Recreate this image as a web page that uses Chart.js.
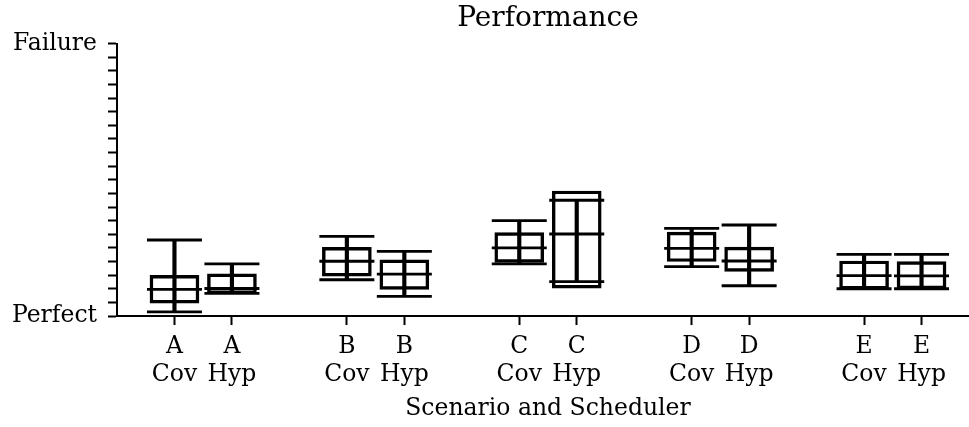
<!DOCTYPE html>
<html><head><meta charset="utf-8">
<script src="https://cdn.jsdelivr.net/npm/chart.js@4/dist/chart.umd.min.js"></script>
<style>html,body{margin:0;padding:0;overflow:hidden;background:#fff}#c{display:block}</style>
</head><body><canvas id="c" width="979" height="427"></canvas>
<script>
// ---- data ----
const scenarios   = ['A','A','B','B','C','C','D','D','E','E'];
const schedulers  = ['Cov','Hyp','Cov','Hyp','Cov','Hyp','Cov','Hyp','Cov','Hyp'];
const positions   = [1,2,4,5,7,8,10,11,13,14];
const whiskerLow  = [0.015,0.083,0.133,0.072,0.191,0.126,0.181,0.111,0.100,0.100];
const boxLow      = [0.047,0.082,0.146,0.098,0.197,0.102,0.200,0.164,0.099,0.100];
const medians     = [0.098,0.101,0.201,0.154,0.250,0.301,0.248,0.202,0.148,0.147];
const boxHigh     = [0.149,0.155,0.252,0.206,0.306,0.459,0.308,0.253,0.202,0.200];
const whiskerHigh = [0.279,0.191,0.292,0.237,0.350,0.425,0.322,0.334,0.226,0.226];
const yTickValues = [0, 1];
const yTickLabels = ['Perfect', 'Failure'];
const yMinorStep  = 0.05;
const titleText   = 'Performance';
const xTitleText  = 'Scenario and Scheduler';

const FONT = {family: '"DejaVu Serif", serif', size: 23.5};
const whiskerData = positions.map((x,i)=>({x, y:[whiskerLow[i], whiskerHigh[i]]}));
const boxData = positions.map((x,i)=>({x, y:[boxLow[i], boxHigh[i]]}));
const capData = positions.flatMap((x,i)=>[{x, y:whiskerLow[i]},{x, y:whiskerHigh[i]}]);
const medData = positions.map((x,i)=>({x, y:medians[i]}));

const yAll = [];
for (let k = 0; k <= Math.round(1/yMinorStep); k++) yAll.push(+(k*yMinorStep).toFixed(4));

new Chart(document.getElementById('c'), {
  type: 'bar',
  data: {
    datasets: [
      {type:'bar', data: whiskerData, backgroundColor:'#000', borderWidth:0, barThickness:3.5, grouped:false},
      {type:'bar', data: boxData, backgroundColor:'rgba(0,0,0,0)', borderColor:'#000', borderWidth:2.8, borderSkipped:false, barThickness:49, grouped:false},
      {type:'scatter', data: capData, pointStyle:'line', pointRadius:27.5, pointBorderWidth:2.8, pointBorderColor:'#000', pointBackgroundColor:'#000'},
      {type:'scatter', data: medData, pointStyle:'line', pointRadius:27.5, pointBorderWidth:2.8, pointBorderColor:'#000', pointBackgroundColor:'#000'}
    ]
  },
  options: {
    responsive: false, animation: false, events: [], devicePixelRatio: 1,
    layout: {padding: 0, autoPadding: false},
    plugins: {
      legend: {display:false}, tooltip: {enabled:false},
      title: {display:true, text:titleText, color:'#000', font:{family:FONT.family, size:28, weight:'normal', lineHeight:1.2}, padding:{top:2, bottom:8}, fullSize:false}
    },
    scales: {
      x: {
        type:'linear', min:0, max:15, offset:false,
        afterBuildTicks: s => { s.ticks = positions.map(v=>({value:v})); },
        afterFit: s => { s.height = 111; s.paddingLeft = 0; s.paddingRight = 0; },
        ticks: {
          autoSkip:false, maxRotation:0, color:'#000', padding:7.5,
          font:{...FONT, lineHeight:'28px'},
          callback: v => { const i = positions.indexOf(v); return i<0 ? '' : [scenarios[i], schedulers[i]]; }
        },
        grid: {offset:false, drawOnChartArea:false, drawTicks:true, tickLength:9, tickWidth:2, tickColor:'#000'},
        border: {color:'#000', width:2},
        title: {display:true, text:xTitleText, color:'#000', font:{...FONT, lineHeight:1.2}, padding:{top:4, bottom:4}}
      },
      y: {
        min:0, max:1,
        afterBuildTicks: s => { s.ticks = yAll.map(v=>({value:v})); },
        afterFit: s => { s.width = 117; },
        ticks: {
          autoSkip:false, color:'#000', padding:11, font:FONT,
          callback: v => { const i = yTickValues.findIndex(t=>Math.abs(t-v)<1e-6); return i<0 ? '' : yTickLabels[i]; }
        },
        grid: {drawOnChartArea:false, drawTicks:true, tickLength:9, tickWidth:2, tickColor:'#000'},
        border: {color:'#000', width:2}
      }
    }
  }
});
</script>
</body></html>
